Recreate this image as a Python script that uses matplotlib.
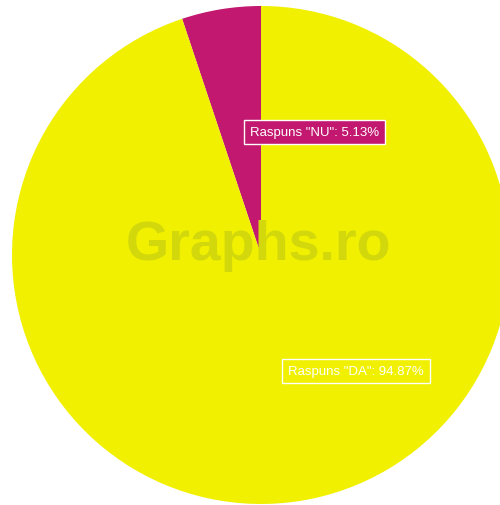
import matplotlib.pyplot as plt

labels = ['Raspuns "NU"', 'Raspuns "DA"']
values = [5.13, 94.87]
colors = ['#C2186F', '#F0F000']

W, H = 500, 506

fig = plt.figure(figsize=(W / 100, H / 100), dpi=100)
ax = fig.add_axes([0, 0, 1, 1])

# pie sits a bit right of centre and runs off the right edge
wedges, _ = ax.pie(values, colors=colors, startangle=90, counterclock=True,
                   center=(261, H - 256), radius=249, frame=True)
ax.set_xlim(0, W)
ax.set_ylim(0, H)
ax.set_aspect('equal')
ax.axis('off')

# watermark
ax.text(258, H - 246, 'Graphs.ro', fontsize=40, fontweight='bold',
        family='Liberation Sans', color='#D3D80C', ha='center', va='center', zorder=3)

# data labels
ax.text(250, H - 133, f'{labels[0]}: {values[0]:.2f}%', fontsize=9.5, family='Liberation Sans',
        color='white', ha='left', va='center', zorder=4,
        bbox=dict(boxstyle='square,pad=0.45', facecolor=colors[0], edgecolor='white', linewidth=1))
ax.text(288, H - 372, f'{labels[1]}: {values[1]:.2f}%', fontsize=9.5, family='Liberation Sans',
        color='white', ha='left', va='center', zorder=4,
        bbox=dict(boxstyle='square,pad=0.45', facecolor=colors[1], edgecolor='white', linewidth=1))

fig.savefig('out.png', dpi=100, facecolor='white')
